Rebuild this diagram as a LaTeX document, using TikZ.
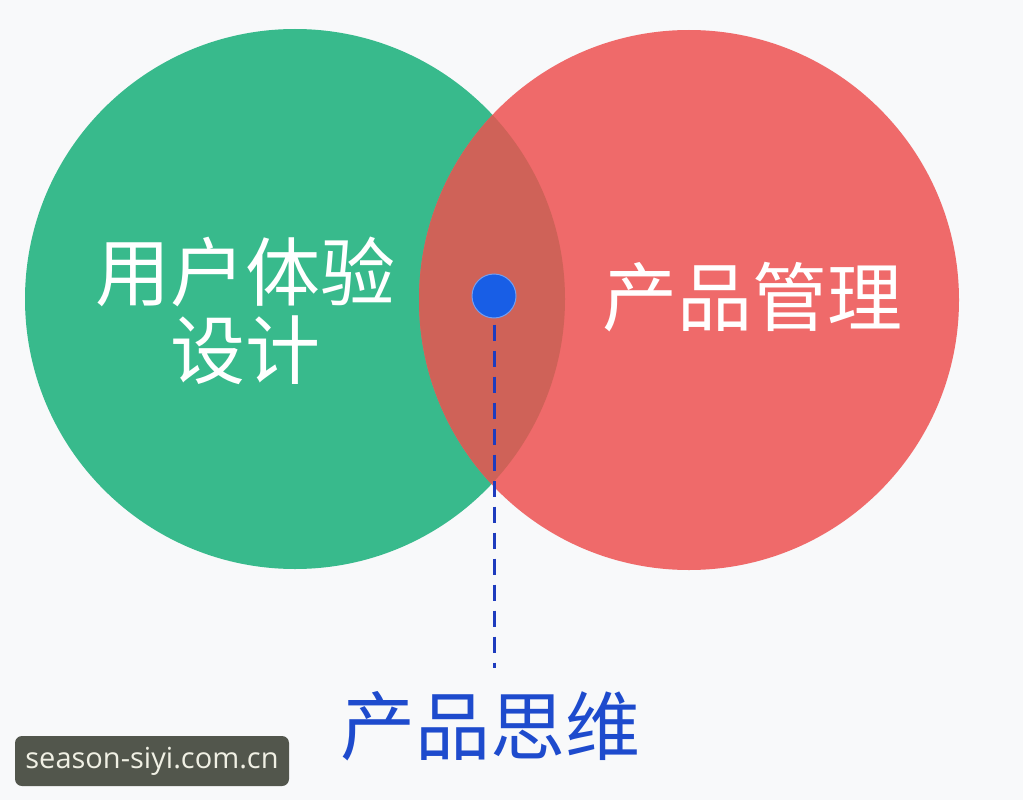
\documentclass[tikz,border=0pt]{standalone}
\usepackage{fontspec}
\newfontfamily\cjk{Noto Sans CJK SC}
\newfontfamily\wmfont{Open Sans}
\definecolor{bgc}{RGB}{248,249,250}
\definecolor{greenc}{RGB}{56,186,140}
\definecolor{redc}{RGB}{239,106,106}
\definecolor{overc}{RGB}{207,98,88}
\definecolor{dotc}{RGB}{24,94,230}
\definecolor{dashc}{RGB}{30,60,190}
\definecolor{labc}{RGB}{30,75,205}
\definecolor{wmbg}{RGB}{82,86,76}
\definecolor{wmtx}{RGB}{240,240,228}
\tikzset{
  bigtext/.style={text=white,font=\cjk\fontsize{75}{84}\selectfont,inner sep=0pt,align=center},
  venn/.style={circle,inner sep=0pt,minimum size=540pt},
}
\begin{document}
\begin{tikzpicture}[x=1pt,y=-1pt]
\fill[bgc] (0,0) rectangle (1023,800);
\useasboundingbox (0,0) rectangle (1023,800);
\node[venn,fill=greenc] (ux) at (295,299) {};
\node[venn,fill=redc] (pm) at (689,300) {};
\begin{scope}
  \clip (295,299) circle (270pt);
  \fill[overc] (689,300) circle (270pt);
\end{scope}
\node[bigtext] (uxt) at (245,311) {用户体验\\[-6pt]设计};
\node[bigtext] (pmt) at (752,297) {产品管理};
\node[circle,fill=dotc,draw=dotc!60!white,line width=1pt,minimum size=44pt,inner sep=0pt] (dot) at (494,296) {};
\coordinate (end) at (494,668);
\draw[dashc,line width=3pt,dash pattern=on 16pt off 10pt] (dot.south) ++(0,6) -- (end);
\node[text=labc,font=\cjk\fontsize{75}{84}\selectfont,inner sep=0pt] (pt) at (490,726) {产品思维};
\node[fill=wmbg,rounded corners=7pt,minimum width=274pt,minimum height=50pt,inner sep=0pt,text=wmtx,font=\wmfont\fontsize{29}{34}\selectfont] (wm) at (152,761) {season-siyi.com.cn};
\end{tikzpicture}
\end{document}
